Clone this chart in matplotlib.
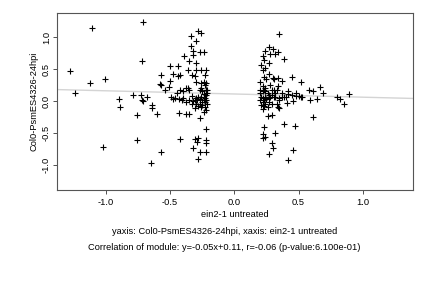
"""
Scatter of module genes: Col0-PsmES4326-24hpi vs ein2-1 untreated.
"""
import numpy as np
import matplotlib
matplotlib.use('Agg')
import matplotlib.pyplot as plt

xname = 'ein2-1 untreated'
yname = 'Col0-PsmES4326-24hpi'
slope = -0.05
intercept = 0.11
r_val = -0.06
p_val = 6.100e-01

# left group of points
x_left = [-1.28, -1.24, -1.11, -1.12, -1.01, -1.02, -0.71, -0.72, -0.90, -0.89,
          -0.79, -0.73, -0.72, -0.71, -0.68, -0.76, -0.76, -0.64, -0.64, -0.60,
          -0.65, -0.57, -0.57, -0.58, -0.57, -0.54, -0.51, -0.50, -0.50, -0.48,
          -0.49, -0.44, -0.44, -0.42, -0.39, -0.43, -0.42, -0.38, -0.35, -0.36,
          -0.35, -0.34, -0.34, -0.32, -0.32, -0.30, -0.28, -0.26, -0.27, -0.24,
          -0.30, -0.30,
          -0.31, -0.30, -0.28, -0.26, -0.24, -0.23, -0.22, -0.21, -0.27, -0.26,
          -0.25, -0.23, -0.22, -0.24, -0.27, -0.31, -0.33, -0.35, -0.38, -0.40,
          -0.41, -0.43, -0.46, -0.48, -0.45, -0.42, -0.40, -0.38, -0.36, -0.35,
          -0.33, -0.27, -0.25, -0.23, -0.22, -0.21, -0.22, -0.22, -0.22, -0.22,
          -0.28, -0.29, -0.31, -0.32, -0.27, -0.28, -0.26, -0.30, -0.26, -0.22,
          -0.23, -0.24, -0.22, -0.26, -0.33, -0.31,
          -0.29, -0.27, -0.25, -0.23, -0.22, -0.21, -0.30, -0.32, -0.28, -0.26,
          -0.22, -0.24]
y_left = [0.47, 0.125, 1.14, 0.28, 0.35, -0.71, 1.23, 0.62, 0.03, -0.09,
          0.09, 0.09, 0.02, 0.0, 0.06, -0.22, -0.61, -0.06, -0.11, -0.20,
          -0.96, -0.80, 0.41, 0.27, 0.25, 0.17, 0.22, 0.31, 0.55, 0.42,
          0.07, 0.54, 0.39, 0.40, 0.70, -0.18, -0.60, -0.20, -0.20, 0.48,
          0.62, 0.86, 1.02, 0.78, 0.72, 0.94, 1.09, 1.06, 0.76, 0.76,
          0.59, 0.49,
          0.02, 0.04, 0.06, 0.07, 0.02, 0.05, 0.09, 0.12, -0.04, -0.09,
          -0.06, -0.09, -0.14, -0.17, -0.27, -0.11, -0.04, 0.02, -0.01, 0.04,
          0.02, 0.03, 0.04, 0.03, 0.12, 0.17, 0.15, 0.20, 0.20, 0.17,
          0.08, 0.17, 0.15, 0.25, 0.28, 0.17, -0.43, -0.61, -0.66, -0.79,
          -0.58, -0.64, -0.60, -0.74, -0.80, -0.90, 0.20, 0.30, 0.48, 0.49,
          0.41, 0.30, 0.18, 0.28, 0.40, 0.39,
          0.02, 0.03, -0.01, -0.01, 0.02, -0.04, -0.04, 0.0, -0.08, 0.07,
          0.17, 0.11]

# right group of points
x_right = [0.35, 0.27, 0.30, 0.24, 0.28, 0.32, 0.34, 0.39, 0.22, 0.23,
           0.27, 0.21, 0.24, 0.22, 0.27, 0.23, 0.25, 0.30, 0.31, 0.34,
           0.37, 0.45, 0.52, 0.20, 0.28, 0.34, 0.67, 0.58, 0.61, 0.69,
           0.89, 0.80, 0.82, 0.85, 0.64, 0.59, 0.48, 0.48, 0.46, 0.41,
           0.42, 0.37, 0.39, 0.35, 0.33, 0.34, 0.35, 0.29, 0.26, 0.22,
           0.26, 0.29, 0.61, 0.39, 0.47, 0.23, 0.22, 0.24, 0.22, 0.32,
           0.29, 0.30, 0.46, 0.27, 0.42,
           0.20, 0.22, 0.23, 0.24, 0.26, 0.27, 0.21, 0.22, 0.24, 0.25,
           0.27, 0.28, 0.29, 0.31, 0.32, 0.20, 0.22, 0.23, 0.24, 0.27,
           0.21, 0.23, 0.31, 0.33, 0.20, 0.32, 0.24, 0.22, 0.29, 0.35,
           0.37, 0.40, 0.42, 0.45, 0.50, 0.52, 0.53]
y_right = [1.05, 0.85, 0.81, 0.78, 0.73, 0.73, 0.76, 0.66, 0.70, 0.64,
           0.60, 0.56, 0.51, 0.48, 0.42, 0.37, 0.34, 0.36, 0.34, 0.36,
           0.31, 0.38, 0.29, 0.30, 0.25, 0.24, 0.22, 0.17, 0.16, 0.13,
           0.11, 0.06, 0.03, -0.04, 0.03, 0.02, 0.13, 0.08, 0.0, -0.03,
           0.15, 0.12, 0.07, 0.04, -0.04, -0.09, -0.11, -0.05, -0.10, -0.12,
           -0.24, -0.22, -0.25, -0.36, -0.39, -0.41, -0.51, -0.56, -0.58, -0.50,
           -0.65, -0.73, -0.77, -0.83, -0.92,
           0.17, 0.15, 0.17, 0.15, 0.12, 0.09, 0.07, 0.04, 0.07, 0.03,
           0.04, 0.07, 0.09, 0.07, 0.06, 0.02, -0.01, 0.02, -0.04, -0.01,
           -0.06, -0.08, 0.17, 0.17, 0.12, 0.12, 0.21, 0.23, 0.18, 0.01,
           0.07, 0.06, 0.11, 0.10, 0.08, 0.07, 0.06]

x = np.array(x_left + x_right)
y = np.array(y_left + y_right)

plt.rcParams['font.family'] = ['Liberation Sans', 'DejaVu Sans']
fs = 6.7

fig = plt.figure(figsize=(4.32, 2.88), dpi=100)
ax = fig.add_axes([0.132, 0.34, 0.824, 0.615])

xl = (-1.38, 1.39)
ax.plot(x, y, ls='', marker='+', ms=4.5, mew=0.8, c='k')

# regression line
xx = np.array(xl)
ax.plot(xx, slope * xx + intercept, c='#d4d4d4', lw=1.0, zorder=0)

ax.set_xlim(*xl)
ax.set_ylim(-1.39, 1.375)
ax.set_xticks([-1.0, -0.5, 0.0, 0.5, 1.0])
ax.set_yticks([-1.0, -0.5, 0.0, 0.5, 1.0])
ax.set_xticklabels(['-1.0', '-0.5', '0.0', '0.5', '1.0'], fontsize=fs)
ax.set_yticklabels(['-1.0', '-0.5', '0.0', '0.5', '1.0'], fontsize=fs,
                   rotation=90, va='center')
ax.tick_params(direction='out', length=3, width=0.6, color='#333333', pad=3)
ax.tick_params(axis='y', pad=1.5)
for sp in ax.spines.values():
    sp.set_color('#555555')
    sp.set_linewidth(0.8)

ax.set_xlabel(xname, fontsize=fs, labelpad=2)
ax.set_ylabel(yname, fontsize=fs, labelpad=2)

fig.text(0.519, 1 - 232 / 288, 'yaxis: %s, xaxis: %s' % (yname, xname),
         ha='center', va='center', fontsize=fs)
fig.text(0.519, 1 - 248 / 288,
         'Correlation of module: y=%.2fx+%.2f, r=%.2f (p-value:%.3e)'
         % (slope, intercept, r_val, p_val),
         ha='center', va='center', fontsize=fs)

plt.savefig('out.png', dpi=100)
